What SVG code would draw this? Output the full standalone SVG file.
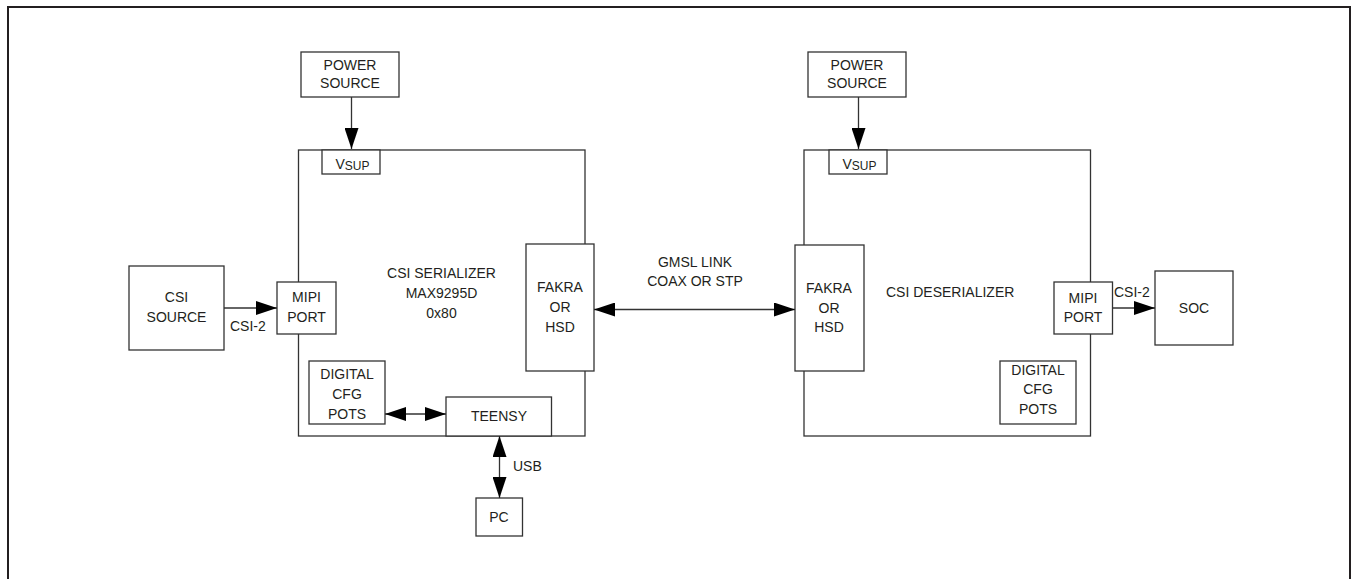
<svg xmlns="http://www.w3.org/2000/svg" width="1351" height="579" viewBox="0 0 1351 579">
<defs>
<style>
.b{fill:#fff;stroke:#333;stroke-width:1.3}
.c{fill:none;stroke:#333;stroke-width:1.3}
.t{font-family:"Liberation Sans",Arial,sans-serif;font-size:14px;fill:#231f20;text-anchor:middle}
.l{text-anchor:start}
.s{font-size:12px}
</style>
<marker id="ah" markerUnits="userSpaceOnUse" markerWidth="21" markerHeight="14" refX="21" refY="7" orient="auto-start-reverse" viewBox="0 0 21 14">
<path d="M0,0 L21,7 L0,14 z" fill="#000"/>
</marker>
</defs>
<rect width="1351" height="579" fill="#fff"/>
<path d="M8,579 V7 H1350 V579" fill="none" stroke="#231f20" stroke-width="2"/>

<g id="serializer">
<rect class="b" x="298.5" y="150" width="286.5" height="286"/>
<text class="t" x="441.5" y="278">CSI SERIALIZER</text>
<text class="t" x="441.5" y="298">MAX9295D</text>
<text class="t" x="441.5" y="318">0x80</text>
</g>
<g id="deserializer">
<rect class="b" x="804" y="150" width="286.5" height="286"/>
<text class="t l" x="886" y="297">CSI DESERIALIZER</text>
</g>

<g id="power1">
<rect class="b" x="301" y="52" width="98" height="45"/>
<text class="t" x="350" y="70">POWER</text>
<text class="t" x="350" y="88">SOURCE</text>
</g>
<g id="vsup1">
<rect class="b" x="322" y="150" width="58" height="24"/>
<text class="t l" x="335.5" y="168.5">V<tspan class="s" dy="1">SUP</tspan></text>
</g>
<g id="power2">
<rect class="b" x="808" y="52" width="98" height="45"/>
<text class="t" x="857" y="70">POWER</text>
<text class="t" x="857" y="88">SOURCE</text>
</g>
<g id="vsup2">
<rect class="b" x="829" y="150" width="58" height="24"/>
<text class="t l" x="842.5" y="168.5">V<tspan class="s" dy="1">SUP</tspan></text>
</g>

<g id="csisource">
<rect class="b" x="129" y="266" width="95" height="84"/>
<text class="t" x="176.5" y="302">CSI</text>
<text class="t" x="176.5" y="322">SOURCE</text>
</g>
<g id="mipi1">
<rect class="b" x="277" y="282" width="59" height="52"/>
<text class="t" x="306.5" y="302">MIPI</text>
<text class="t" x="306.5" y="322">PORT</text>
</g>
<g id="fakra1">
<rect class="b" x="526" y="244" width="68" height="127"/>
<text class="t" x="560" y="292">FAKRA</text>
<text class="t" x="560" y="312">OR</text>
<text class="t" x="560" y="332">HSD</text>
</g>
<g id="digital1">
<rect class="b" x="309" y="361" width="76" height="63"/>
<text class="t" x="347" y="379">DIGITAL</text>
<text class="t" x="347" y="399">CFG</text>
<text class="t" x="347" y="418.5">POTS</text>
</g>
<g id="teensy">
<rect class="b" x="446" y="397" width="105.5" height="39"/>
<text class="t" x="499" y="421">TEENSY</text>
</g>
<g id="pc">
<rect class="b" x="476" y="498" width="46.5" height="38"/>
<text class="t" x="499" y="521.5">PC</text>
</g>

<g id="fakra2">
<rect class="b" x="795" y="245" width="69" height="126"/>
<text class="t" x="829" y="292.5">FAKRA</text>
<text class="t" x="829" y="313">OR</text>
<text class="t" x="829" y="332">HSD</text>
</g>
<g id="mipi2">
<rect class="b" x="1054" y="282" width="58.5" height="52"/>
<text class="t" x="1083" y="302.5">MIPI</text>
<text class="t" x="1083" y="322">PORT</text>
</g>
<g id="soc">
<rect class="b" x="1155" y="271" width="78" height="74"/>
<text class="t" x="1194" y="312.5">SOC</text>
</g>
<g id="digital2">
<rect class="b" x="1000" y="361" width="76" height="63"/>
<text class="t" x="1038" y="375">DIGITAL</text>
<text class="t" x="1038" y="394">CFG</text>
<text class="t" x="1038" y="414">POTS</text>
</g>

<g id="connectors">
<line class="c" x1="351.5" y1="97" x2="351.5" y2="149" marker-end="url(#ah)"/>
<line class="c" x1="858.5" y1="97" x2="858.5" y2="149" marker-end="url(#ah)"/>
<line class="c" x1="224" y1="308" x2="277" y2="308" marker-end="url(#ah)"/>
<line class="c" x1="1112.5" y1="308" x2="1155" y2="308" marker-end="url(#ah)"/>
<line class="c" x1="594" y1="309.5" x2="795" y2="309.5" marker-start="url(#ah)" marker-end="url(#ah)"/>
<line class="c" x1="385" y1="414" x2="446" y2="414" marker-start="url(#ah)" marker-end="url(#ah)"/>
<line class="c" x1="499.5" y1="436" x2="499.5" y2="498" marker-start="url(#ah)" marker-end="url(#ah)"/>
<text class="t l" x="230" y="330.5">CSI-2</text>
<text class="t l" x="1114" y="297">CSI-2</text>
<text class="t l" x="513" y="470.5">USB</text>
<text class="t" x="695" y="266.5">GMSL LINK</text>
<text class="t" x="695" y="285.5">COAX OR STP</text>
</g>
</svg>
